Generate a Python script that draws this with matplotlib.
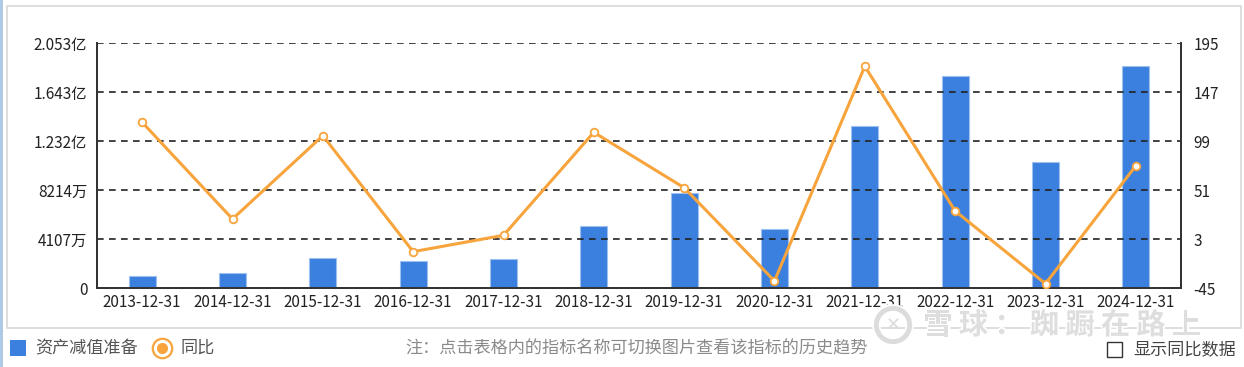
import matplotlib
matplotlib.use("Agg")
import matplotlib.pyplot as plt
from matplotlib.patches import Rectangle
from matplotlib.lines import Line2D
import matplotlib.patheffects as pe

plt.rcParams['font.family'] = ['Noto Sans CJK SC', 'DejaVu Sans']

categories = ['2013-12-31', '2014-12-31', '2015-12-31', '2016-12-31', '2017-12-31', '2018-12-31',
              '2019-12-31', '2020-12-31', '2021-12-31', '2022-12-31', '2023-12-31', '2024-12-31']
# 资产减值准备, unit: 万
impairment = [1006, 1257, 2565, 2313, 2481, 5197, 7988, 4996, 13578, 17770, 10610, 18610]
# 同比 (%)
yoy = [117.6, 22.9, 104.5, -9.1, 6.9, 107.8, 53.5, -37.8, 172.5, 30.7, -40.5, 75.1]

left_ticks = [0, 4107, 8214, 12320, 16430, 20530]
left_labels = ['0', '4107万', '8214万', '1.232亿', '1.643亿', '2.053亿']
right_ticks = [-45, 3, 51, 99, 147, 195]
right_labels = ['-45', '3', '51', '99', '147', '195']
watermark = '雪球：踟蹰在路上'

W, H = 1244, 367
fig = plt.figure(figsize=(W / 100, H / 100), dpi=100)
fig.patch.set_facecolor('white')

ax = fig.add_axes([97 / W, (H - 288.3) / H, (1181 - 97) / W, (288.3 - 43.3) / H])
x = list(range(len(categories)))
ax.bar(x, impairment, width=0.3, color='#3b80de', edgecolor='#9cc0f0', linewidth=0.8, zorder=1)
ax.set_xlim(-0.5, len(categories) - 0.5)
ax.set_ylim(left_ticks[0], left_ticks[-1])
ax.set_yticks(left_ticks)
ax.set_yticklabels(left_labels)
ax.set_xticks(x)
ax.set_xticklabels(categories)
ax.set_axisbelow(False)
ax.yaxis.grid(True, linestyle=(0, (4, 3.2)), color='#222222', linewidth=1.2, zorder=2.5)
ax.tick_params(axis='both', length=0, labelsize=11, colors='#222222')
ax.tick_params(axis='y', pad=7)
ax.tick_params(axis='x', pad=4)
ax.spines['top'].set_visible(False)
for s in ['left', 'bottom', 'right']:
    ax.spines[s].set_color('#333333')
    ax.spines[s].set_linewidth(1.3)
ax.spines['bottom'].set_zorder(3)

ax2 = ax.twinx()
ax2.plot(x, yoy, color='#f7a43c', linewidth=2.2, marker='o', markersize=5.5,
         markerfacecolor='white', markeredgecolor='#f7a43c', markeredgewidth=1.3, zorder=5)
ax2.set_ylim(right_ticks[0], right_ticks[-1])
ax2.set_yticks(right_ticks)
ax2.set_yticklabels(right_labels)
ax2.tick_params(axis='y', length=0, labelsize=11, colors='#222222', pad=9)
ax2.spines['top'].set_visible(False)
for s in ['left', 'bottom', 'right']:
    ax2.spines[s].set_color('#333333')
    ax2.spines[s].set_linewidth(1.3)

# outer border of chart panel
fig.patches.append(Rectangle((7 / W, (H - 328) / H), (1241 - 7) / W, (328 - 6) / H,
                             transform=fig.transFigure, fill=False, edgecolor='#d8d8d8',
                             linewidth=1.2, zorder=0))
# left light blue edge
fig.add_artist(Line2D([1 / W, 1 / W], [0, 1], transform=fig.transFigure,
                      color='#a9c6e6', linewidth=2))

# watermark
wy = (H - 325) / H
fig.add_artist(Line2D([893 / W], [wy], transform=fig.transFigure, marker='o', markersize=24,
                      markerfacecolor='none', markeredgecolor='#dcdcdc', markeredgewidth=3.5,
                      linestyle='none', zorder=10,
                      path_effects=[pe.withStroke(linewidth=6, foreground='white')]))
fig.text(893 / W, wy, '✕', fontsize=13, color='#dcdcdc', ha='center', va='center',
         family=['DejaVu Sans'], zorder=10, fontweight='bold')
for i, ch in enumerate(watermark):
    fig.text((938 + i * 35.5) / W, wy, ch, fontsize=21, color='#dedede',
             ha='center', va='center', zorder=10, fontweight='bold',
             path_effects=[pe.withStroke(linewidth=2.5, foreground='white')])

# legend
ly = (H - 348) / H
fig.patches.append(Rectangle((10 / W, (H - 356) / H), 16 / W, 16 / H, transform=fig.transFigure,
                             facecolor='#3b80de', edgecolor='none'))
fig.text(35 / W, ly, '资产减值准备', fontsize=12.3, color='#555555', ha='left', va='center')
fig.add_artist(Line2D([162 / W], [ly], transform=fig.transFigure, marker='o', markersize=14,
                      markerfacecolor='white', markeredgecolor='#f7a43c', markeredgewidth=1.6,
                      linestyle='none'))
fig.add_artist(Line2D([162 / W], [ly], transform=fig.transFigure, marker='o', markersize=8,
                      markerfacecolor='#f7a43c', markeredgecolor='none', linestyle='none'))
fig.text(180 / W, ly, '同比', fontsize=12.3, color='#555555', ha='left', va='center')

fig.text(405 / W, ly, '注：点击表格内的指标名称可切换图片查看该指标的历史趋势', fontsize=12.3,
         color='#8a8a8a', ha='left', va='center')

fig.patches.append(Rectangle((1107 / W, (H - 357) / H), 15 / W, 15 / H, transform=fig.transFigure,
                             facecolor='white', edgecolor='#333333', linewidth=1.0))
fig.text(1133 / W, (H - 349) / H, '显示同比数据', fontsize=12.3, color='#444444', ha='left', va='center')

fig.savefig('out.png', dpi=100, facecolor='white')
